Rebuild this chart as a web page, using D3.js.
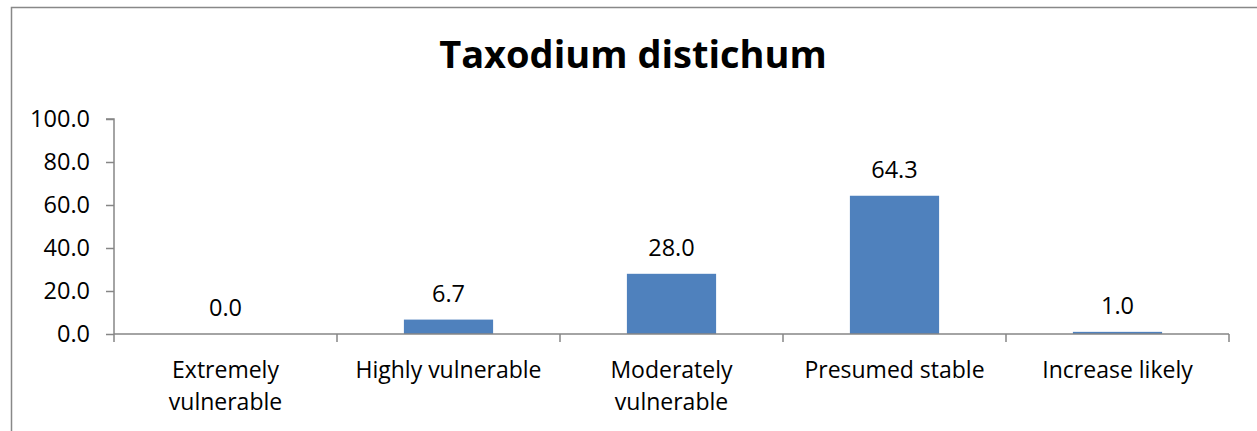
<!DOCTYPE html>
<html>
<head>
<meta charset="utf-8">
<script src="https://cdn.jsdelivr.net/npm/d3@7"></script>
<style>
  html, body { margin: 0; padding: 0; background: #fff; }
  svg { display: block; }
  text { font-family: "Open Sans", Lato, sans-serif; fill: #000; }
</style>
</head>
<body>
<svg id="chart" width="1257" height="431"></svg>
<script>
// Vulnerability classes and the share (%) of projections in each
const categories = [
  ["Extremely", "vulnerable"],
  ["Highly vulnerable"],
  ["Moderately", "vulnerable"],
  ["Presumed stable"],
  ["Increase likely"]
];
const values = [0.0, 6.7, 28.0, 64.3, 1.0];
const yTicks = [0, 20, 40, 60, 80, 100];
const title = "Taxodium distichum";

const W = 1257, H = 431;
const FONT = '"Open Sans", Lato, sans-serif';
const svg = d3.select("#chart");

// outer frame of the chart area
svg.append("rect")
  .attr("x", 11.5).attr("y", 7.5)
  .attr("width", W + 20).attr("height", H + 20)
  .attr("fill", "none").attr("stroke", "#888").attr("stroke-width", 1.5);

const plot = { left: 114, right: 1229, top: 119, bottom: 334 };

const x = d3.scaleBand()
  .domain(d3.range(categories.length))
  .range([plot.left, plot.right])
  .paddingInner(0.6)
  .paddingOuter(0.3);

const y = d3.scaleLinear().domain([0, 100]).range([plot.bottom, plot.top]);

// title
svg.append("text")
  .attr("x", 633).attr("y", 68)
  .attr("text-anchor", "middle")
  .attr("font-size", 38).attr("font-weight", "bold")
  .text(title);

// bars
svg.append("g").selectAll("rect")
  .data(values)
  .join("rect")
  .attr("x", (d, i) => x(i))
  .attr("width", x.bandwidth())
  .attr("y", d => y(d))
  .attr("height", d => y(0) - y(d))
  .attr("fill", "#4f81bd");

// value labels
svg.append("g").selectAll("text")
  .data(values)
  .join("text")
  .attr("x", (d, i) => x(i) + x.bandwidth() / 2)
  .attr("y", d => y(d) - 18)
  .attr("text-anchor", "middle")
  .attr("font-size", 23.5)
  .text(d => d.toFixed(1));

// y axis
const yAxis = d3.axisLeft(y)
  .tickValues(yTicks)
  .tickSize(8)
  .tickPadding(16)
  .tickFormat(d => d.toFixed(1));
const gy = svg.append("g").attr("transform", `translate(${plot.left},0)`).call(yAxis);
gy.select(".domain").attr("stroke", "#868686").attr("stroke-width", 1.5).attr("d", `M-8,${plot.top}H0V${plot.bottom}`);
gy.selectAll(".tick line").attr("stroke", "#868686").attr("stroke-width", 1.5);
gy.selectAll(".tick text").attr("font-size", 23.5).attr("font-family", FONT).attr("fill", "#000");

// x axis: boundaries between categories get tick marks
const step = x.step();
const bounds = d3.range(categories.length + 1).map(i => plot.left + i * step);
const gx = svg.append("g");
gx.append("line")
  .attr("x1", plot.left).attr("x2", plot.right)
  .attr("y1", plot.bottom).attr("y2", plot.bottom)
  .attr("stroke", "#868686").attr("stroke-width", 1.5);
gx.selectAll("line.tk")
  .data(bounds)
  .join("line")
  .attr("class", "tk")
  .attr("x1", d => d).attr("x2", d => d)
  .attr("y1", plot.bottom).attr("y2", plot.bottom + 8)
  .attr("stroke", "#868686").attr("stroke-width", 1.5);

// category labels
gx.selectAll("text")
  .data(categories)
  .join("text")
  .attr("text-anchor", "middle")
  .attr("font-size", 23)
  .each(function(lines, i) {
    const t = d3.select(this);
    lines.forEach((ln, k) => {
      t.append("tspan")
        .attr("x", x(i) + x.bandwidth() / 2)
        .attr("y", 378 + k * 32)
        .text(ln);
    });
  });
</script>
</body>
</html>
